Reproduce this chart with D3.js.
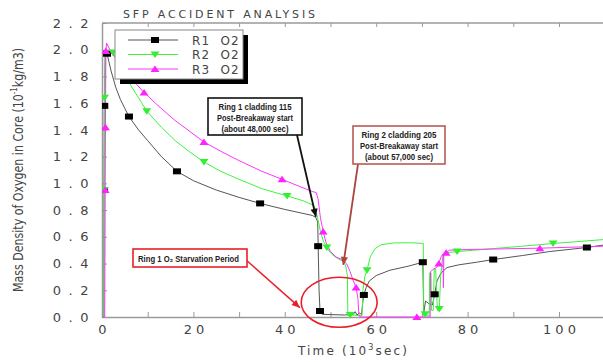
<!DOCTYPE html>
<html>
<head>
<meta charset="utf-8">
<script src="https://cdn.jsdelivr.net/npm/d3@7"></script>
<style>
  body { margin: 0; background: #fff; }
  svg { display: block; }
</style>
</head>
<body>
<svg id="chart" width="603" height="362"></svg>
<script>
// ---- Data: time in 10^3 s, O2 mass density in 10^-1 kg/m3 ----
const seriesNames = ["R1  O2", "R2  O2", "R3  O2"];
const seriesColors = ["#555555", "#3ef23e", "#ff33ff"];
const markerColors = ["#000000", "#33ee33", "#ff22ff"];

const r1Line = [
  [0,0],[0.4,0],[0.45,0.95],[0.5,1.58],[0.7,1.95],[1.1,1.97],[2,1.84],[3,1.72],[4,1.63],[5,1.56],
  [5.9,1.50],[8,1.40],[10,1.32],[13,1.20],[16.4,1.09],[20,1.02],[25,0.95],[30,0.895],[34.6,0.85],
  [40,0.805],[44,0.775],[46,0.76],[46.8,0.745],[47.2,0.71],[47.3,0.53],[47.5,0.2],[47.7,0.045],
  [48.2,0.02],[53,0.015],[55,0.02],[55.4,0.04],[55.8,0.015],[56.3,0.03],[56.8,0.02],[57.1,0.12],
  [57.3,0.165],[57.8,0.22],[58.5,0.27],[60,0.31],[63,0.35],[67,0.38],[70.2,0.41],[70.4,0.03],
  [70.8,0.12],[71.5,0.10],[72.3,0.09],[72.8,0.17],[73.3,0.27],[74.2,0.33],[75.5,0.37],[78,0.39],
  [82,0.41],[85.6,0.43],[92,0.46],[98,0.49],[106.1,0.52],[110,0.54]
];
const r1Marks = [
  [0.45,0.95],[0.5,1.58],[1.1,1.97],[5.9,1.50],[16.4,1.09],[34.6,0.85],[47.3,0.53],[47.7,0.045],
  [57.3,0.165],[70.2,0.41],[72.8,0.17],[85.6,0.43],[106.1,0.52]
];

const r2Line = [
  [0,0],[0.4,0],[0.5,0.95],[0.55,1.64],[0.7,1.98],[1.5,2.0],[2.4,1.98],[4,1.88],[6,1.75],[8,1.64],
  [9.8,1.54],[13,1.42],[16,1.32],[19,1.24],[22.3,1.16],[26,1.09],[30,1.03],[35,0.96],[40.5,0.906],
  [44,0.87],[46,0.84],[46.6,0.82],[47.2,0.74],[47.8,0.64],[48.4,0.57],[49.2,0.52],[50,0.48],[51,0.45],
  [52.5,0.42],[53.3,0.39],[53.7,0.31],[53.8,0.01],[54.3,0.015],[56.9,0.01],[57.1,0.2],[57.5,0.3],
  [58,0.35],[58.7,0.45],[59.7,0.51],[61,0.54],[64,0.555],[68,0.555],[70.3,0.55],[70.4,0.01],
  [70.7,0.02],[71.6,0.01],[71.7,0.33],[72.0,0.33],[72.1,0.05],[72.5,0.05],[72.7,0.36],[73.0,0.36],
  [73.4,0.05],[73.8,0.06],[74.1,0.3],[74.5,0.44],[75.2,0.48],[77.7,0.49],[85,0.51],[92,0.53],
  [98.7,0.55],[110,0.58]
];
const r2Marks = [
  [0.5,0.95],[0.55,1.64],[2.4,1.98],[9.8,1.54],[22.3,1.16],[40.5,0.906],[49.2,0.52],[54.3,0.015],
  [58,0.35],[70.7,0.02],[73.8,0.06],[77.7,0.49],[98.7,0.55]
];

const r3Line = [
  [0,0],[0.6,0],[0.7,0.95],[0.75,1.42],[0.85,1.99],[1.0,2.05],[2,1.98],[4,1.89],[6,1.80],[9.2,1.68],
  [12,1.59],[16,1.47],[22.3,1.31],[26,1.24],[30,1.17],[35,1.09],[39.4,1.03],[43,0.98],[46,0.94],
  [46.9,0.93],[47.3,0.88],[47.8,0.74],[48.4,0.64],[49,0.56],[50,0.49],[51.2,0.45],[52.5,0.43],
  [53.5,0.40],[54.3,0.34],[55,0.27],[55.6,0.22],[56,0.14],[56.2,0.02],[56.5,0],[71.8,0],[71.9,0.34],
  [72.6,0.36],[73.2,0.37],[73.7,0.40],[74.2,0.45],[74.6,0.47],[74.7,0.22],[74.8,0.46],[75.3,0.48],
  [76,0.50],[80,0.505],[88,0.51],[95.8,0.515],[110,0.53]
];
const r3Marks = [
  [0.7,0.95],[0.75,1.42],[0.85,1.99],[9.2,1.68],[22.3,1.31],[39.4,1.03],[48.4,0.64],[55.6,0.22],
  [68.9,0.0],[73.7,0.40],[75.3,0.48],[95.8,0.515]
];

const xLabelTicks = [0, 20, 40, 60, 80, 100];
const xMinorTicks = [0, 10, 20, 30, 40, 50, 60, 70, 80, 90, 100, 110];
const yTicks = [0, 0.2, 0.4, 0.6, 0.8, 1.0, 1.2, 1.4, 1.6, 1.8, 2.0, 2.2];

// ---- Layout ----
const svg = d3.select("#chart");
const x = d3.scaleLinear().domain([0, 110]).range([102, 604.7]);
const y = d3.scaleLinear().domain([0, 2.2]).range([317, 23]);
const axisColor = "#9a9a9a";
const tickFont = "DejaVu Sans, sans-serif";

svg.append("defs").append("clipPath").attr("id", "plot")
  .append("rect").attr("x", x(0)).attr("y", y(2.2) - 4)
  .attr("width", x(110) - x(0)).attr("height", y(0) - y(2.2) + 8);

// Frame line along the top
svg.append("line").attr("x1", x(0)).attr("x2", x(110)).attr("y1", y(2.2)).attr("y2", y(2.2))
  .attr("stroke", axisColor).attr("stroke-width", 1.5);

// Left axis: inward ticks, spaced labels
const yAxis = svg.append("g").attr("transform", `translate(${x(0)},0)`)
  .call(d3.axisLeft(y).tickValues(yTicks).tickSizeInner(-5).tickSizeOuter(0)
    .tickPadding(6).tickFormat(d3.format(".1f")));
yAxis.select(".domain").attr("stroke", axisColor).attr("stroke-width", 1.5);
yAxis.selectAll(".tick line").attr("stroke", axisColor);
yAxis.selectAll(".tick text").attr("font-family", tickFont).attr("font-size", 13)
  .attr("fill", "#444").attr("letter-spacing", 7.5);

// Bottom axis
const xAxis = svg.append("g").attr("transform", `translate(0,${y(0)})`)
  .call(d3.axisBottom(x).tickValues(xMinorTicks).tickSizeInner(-5).tickSizeOuter(0)
    .tickPadding(8).tickFormat(d => xLabelTicks.includes(d) ? d : ""));
xAxis.select(".domain").attr("stroke", axisColor).attr("stroke-width", 1.5);
xAxis.selectAll(".tick line").attr("stroke", axisColor);
xAxis.selectAll(".tick text").attr("font-family", tickFont).attr("font-size", 13)
  .attr("fill", "#444").attr("letter-spacing", 4).attr("dx", 2);

// Top axis: ticks only
const topAxis = svg.append("g").attr("transform", `translate(0,${y(2.2)})`)
  .call(d3.axisTop(x).tickValues(xMinorTicks).tickSizeInner(-4).tickSizeOuter(0).tickFormat(""));
topAxis.select(".domain").remove();
topAxis.selectAll(".tick line").attr("stroke", axisColor);

// Title and axis titles
svg.append("text").attr("x", 123).attr("y", 17.5)
  .attr("font-family", tickFont).attr("font-size", 11).attr("fill", "#444")
  .attr("textLength", 192).attr("lengthAdjust", "spacing")
  .text("SFP ACCIDENT ANALYSIS");

const xt = svg.append("text").attr("x", 298).attr("y", 355)
  .attr("font-family", tickFont).attr("font-size", 12).attr("fill", "#444")
  .attr("textLength", 109).attr("lengthAdjust", "spacing");
xt.append("tspan").text("Time (10");
xt.append("tspan").attr("font-size", 8).attr("dy", -5).text("3");
xt.append("tspan").attr("dy", 5).text("sec)");

const yt = svg.append("text").attr("transform", "translate(23,292) rotate(-90)")
  .attr("font-family", tickFont).attr("font-size", 14).attr("fill", "#444")
  .attr("textLength", 244).attr("lengthAdjust", "spacingAndGlyphs");
yt.append("tspan").text("Mass Density of Oxygen in Core (10");
yt.append("tspan").attr("font-size", 9).attr("dy", -6).text("-1");
yt.append("tspan").attr("dy", 6).text("kg/m3)");

// ---- Series ----
const line = d3.line().x(d => x(d[0])).y(d => y(d[1]));
const plot = svg.append("g").attr("clip-path", "url(#plot)");
const lines = [r1Line, r2Line, r3Line];
const marks = [r1Marks, r2Marks, r3Marks];

lines.forEach((pts, i) => {
  plot.append("path").datum(pts).attr("d", line)
    .attr("fill", "none").attr("stroke", seriesColors[i]).attr("stroke-width", 1);
});

function drawMarker(g, kind, cx, cy, color) {
  if (kind === 0) {
    g.append("rect").attr("x", cx - 4).attr("y", cy - 3).attr("width", 8).attr("height", 6).attr("fill", color);
  } else if (kind === 1) {
    g.append("path").attr("d", `M${cx - 4.5},${cy - 3}L${cx + 4.5},${cy - 3}L${cx},${cy + 3.5}Z`).attr("fill", color);
  } else {
    g.append("path").attr("d", `M${cx - 4.5},${cy + 3}L${cx + 4.5},${cy + 3}L${cx},${cy - 3.5}Z`).attr("fill", color);
  }
}
marks.forEach((pts, i) => {
  pts.forEach(p => drawMarker(plot, i, x(p[0]), y(p[1]), markerColors[i]));
});

// ---- Legend ----
const lg = svg.append("g");
lg.append("rect").attr("x", 120).attr("y", 35).attr("width", 128).attr("height", 49).attr("fill", "#000");
lg.append("rect").attr("x", 115).attr("y", 30).attr("width", 128).attr("height", 49)
  .attr("fill", "#fff").attr("stroke", "#888").attr("stroke-width", 1);
seriesNames.forEach((name, i) => {
  const ly = 40 + i * 14.5;
  lg.append("line").attr("x1", 128).attr("x2", 178).attr("y1", ly).attr("y2", ly)
    .attr("stroke", seriesColors[i]).attr("stroke-width", 1);
  drawMarker(lg, i, 155, ly, markerColors[i]);
  lg.append("text").attr("x", 192).attr("y", ly + 4.5)
    .attr("font-family", tickFont).attr("font-size", 12).attr("fill", "#444")
    .attr("letter-spacing", 1.2).attr("xml:space", "preserve").text(name);
});

// ---- Annotations ----
const noteFont = "Liberation Sans, Arial, sans-serif";
function arrow(x1, y1, x2, y2, color, w, head) {
  svg.append("line").attr("x1", x1).attr("y1", y1).attr("x2", x2).attr("y2", y2)
    .attr("stroke", color).attr("stroke-width", w);
  const a = Math.atan2(y2 - y1, x2 - x1);
  const h = head, s = head * 0.45;
  const bx = x2 - h * Math.cos(a), by = y2 - h * Math.sin(a);
  svg.append("path")
    .attr("d", `M${x2},${y2}L${bx + s * Math.sin(a)},${by - s * Math.cos(a)}L${bx - s * Math.sin(a)},${by + s * Math.cos(a)}Z`)
    .attr("fill", color);
}
function noteBox(bx, by, bw, bh, stroke, lines, widths, y0, step) {
  svg.append("rect").attr("x", bx).attr("y", by).attr("width", bw).attr("height", bh)
    .attr("fill", "#fff").attr("stroke", stroke).attr("stroke-width", 1.6);
  lines.forEach((t, i) => {
    svg.append("text").attr("x", bx + bw / 2).attr("y", y0 + i * step).attr("text-anchor", "middle")
      .attr("font-family", noteFont).attr("font-size", 9).attr("font-weight", "bold").attr("fill", "#222")
      .attr("textLength", widths[i]).attr("lengthAdjust", "spacingAndGlyphs").text(t);
  });
}

// Ring 1 breakaway
arrow(297, 135, x(46.8), y(0.75), "#111", 1.8, 8);
noteBox(208, 98, 94, 37, "#111",
  ["Ring 1 cladding 115", "Post-Breakaway start", "(about 48,000 sec)"], [73, 76, 67], 110, 11);

// Ring 2 breakaway
arrow(358, 164, x(52.8), y(0.39), "#a8463f", 1.8, 8);
noteBox(353, 126, 92, 38, "#b85a55",
  ["Ring 2 cladding 205", "Post-Breakaway start", "(about 57,000 sec)"], [75, 78, 68], 138, 11);

// Ring 1 starvation period
svg.append("ellipse").attr("cx", x(51.9)).attr("cy", y(0.11)).attr("rx", 38).attr("ry", 25)
  .attr("fill", "none").attr("stroke", "#e8202a").attr("stroke-width", 1.6);
arrow(245, 259, x(43.3), y(0.07), "#e8202a", 1.4, 8);
svg.append("rect").attr("x", 133).attr("y", 249).attr("width", 114).attr("height", 18)
  .attr("fill", "#fff").attr("stroke", "#e8202a").attr("stroke-width", 1.6);
svg.append("text").attr("x", 138).attr("y", 261.5)
  .attr("font-family", noteFont).attr("font-size", 9).attr("font-weight", "bold").attr("fill", "#222")
  .attr("textLength", 101).attr("lengthAdjust", "spacingAndGlyphs")
  .text("Ring 1 O\u2082 Starvation Period");
</script>
</body>
</html>
